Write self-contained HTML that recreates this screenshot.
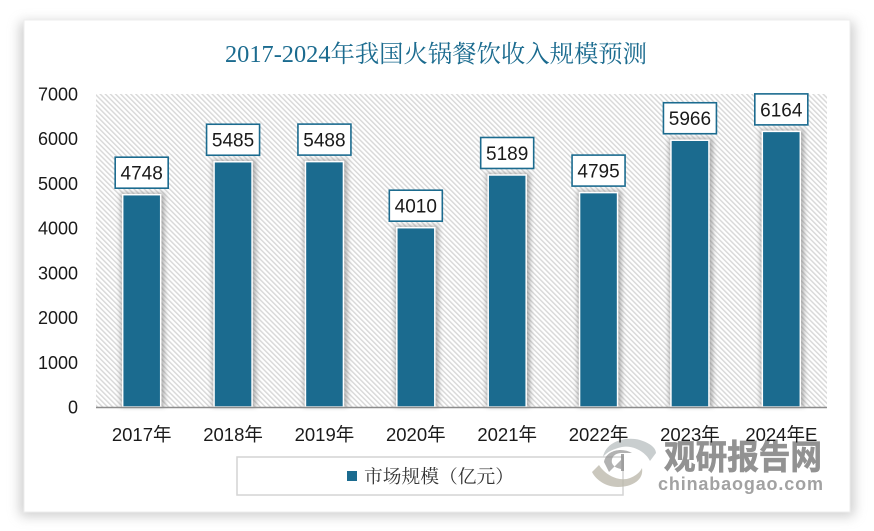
<!DOCTYPE html>
<html lang="zh-CN">
<head>
<meta charset="utf-8">
<title>2017-2024年我国火锅餐饮收入规模预测</title>
<style>
html,body{margin:0;padding:0;background:#fff;width:874px;height:531px;overflow:hidden}
#chart{display:block;position:absolute;left:0;top:0}
</style>
</head>
<body>
<svg id="chart" width="874" height="531" viewBox="0 0 874 531" xmlns="http://www.w3.org/2000/svg">
  <defs>
    <filter id="cardShadow" x="-5%" y="-5%" width="110%" height="110%">
      <feGaussianBlur stdDeviation="6"/>
    </filter>
    <filter id="barShadow" x="-40%" y="-10%" width="180%" height="120%">
      <feGaussianBlur stdDeviation="2.5"/>
    </filter>
    <pattern id="hatch" width="3.6" height="3.6" patternUnits="userSpaceOnUse" patternTransform="rotate(-45)">
      <rect width="3.6" height="3.6" fill="#ffffff"/>
      <rect x="0" width="1.5" height="3.6" fill="#d9d9d9"/>
    </pattern>
  </defs>
  <rect x="20" y="22" width="834" height="494" fill="#9a9a9a" opacity="0.5" filter="url(#cardShadow)"/>
  <rect x="24" y="20" width="826" height="492" fill="#ffffff" stroke="#eeeeee" stroke-width="1"/>
  <text x="436" y="62" text-anchor="middle" font-family="'Liberation Serif','Noto Serif CJK SC',serif" font-size="24" fill="#1b6b8f" textLength="422" lengthAdjust="spacingAndGlyphs">2017-2024年我国火锅餐饮收入规模预测</text>
  <rect x="96" y="94" width="731" height="313" fill="url(#hatch)"/>
  <g id="bars"></g>
  <line x1="96" x2="827" y1="407.5" y2="407.5" stroke="#8c8c8c" stroke-width="1.6"/>
  <g id="yTicks"></g>
  <g id="xTicks"></g>
  <g id="labels"></g>
  <rect x="237" y="457" width="386" height="38" fill="#ffffff" stroke="#d4d4d4" stroke-width="1.5"/>
  <rect x="347" y="471" width="10" height="10" fill="#1b6b8f"/>
  <text x="364" y="483" font-family="'Liberation Serif','Noto Serif CJK SC',serif" font-size="18.5" fill="#333333" textLength="150" lengthAdjust="spacingAndGlyphs">市场规模（亿元）</text>
  <g>
    <g opacity="0.8">
      <path d="M603 457 C606 441 626 436 640 440 C650 443 656 448 656 453 L650 461 C645 451 632 445 622 447 C613 449 607 452 603 457 Z" fill="#bcc2c4"/>
      <path d="M592 472 L599 465 C606 476 620 482 630 478 C637 475 640 472 642 468 C644 480 632 487 618 487 C606 487 596 480 592 472 Z" fill="#bdbaad"/>
      <path d="M604 462 C606 450 622 447 632 453 L622 453 C614 453 611 458 612 463 C614 468 620 469 622 469 L623 460 L623 458 L609 472 Z" fill="#8e8e8e" opacity="0.85"/>
      <rect x="621" y="454" width="3" height="17" fill="#8e8e8e"/>
    </g>
    <text x="664" y="469" font-family="'Liberation Sans','Noto Sans CJK SC',sans-serif" font-size="34" font-weight="700" fill="#8d8d8d" stroke="#8d8d8d" stroke-width="0.7" textLength="158" lengthAdjust="spacingAndGlyphs" opacity="0.95">观研报告网</text>
    <text x="658" y="490" font-family="'Liberation Sans',sans-serif" font-size="18" font-weight="700" fill="#a2a2a2" textLength="165" lengthAdjust="spacing">chinabaogao.com</text>
  </g>
  <g id="xTicksTop"></g>
</svg>
<script>
const categories = ['2017年','2018年','2019年','2020年','2021年','2022年','2023年','2024年E'];
const marketSize = [4748,5485,5488,4010,5189,4795,5966,6164];
const yTickValues = [0,1000,2000,3000,4000,5000,6000,7000];

const NS = 'http://www.w3.org/2000/svg';
const plotLeft = 96, plotRight = 827, plotTop = 94, plotBottom = 407, yMax = 7000;
const barWidth = 38, labelW = 53, labelH = 31;
const latin = "'Liberation Sans','Noto Sans CJK SC',sans-serif";

function yScale(v){ return plotBottom - (v / yMax) * (plotBottom - plotTop); }
function xCenter(i){ return plotLeft + (plotRight - plotLeft) / categories.length * (i + 0.5); }
function make(tag, attrs, parent){
  const el = document.createElementNS(NS, tag);
  for (const k in attrs) el.setAttribute(k, attrs[k]);
  parent.appendChild(el);
  return el;
}

const barsG = document.getElementById('bars');
const labelsG = document.getElementById('labels');
const xG = document.getElementById('xTicksTop');
const yG = document.getElementById('yTicks');

yTickValues.forEach(function(v){
  const t = make('text', {x: 78, y: yScale(v) + 6.5, 'text-anchor': 'end', 'font-family': latin, 'font-size': 18, fill: '#1a1a1a'}, yG);
  t.textContent = v;
  
  
});

categories.forEach(function(c, i){
  const cx = xCenter(i), top = yScale(marketSize[i]);

  const shadow = make('rect', {x: cx - barWidth / 2 - 2, y: top - 2, width: barWidth + 6, height: plotBottom - top + 2, fill: '#777777', opacity: 0.55, filter: 'url(#barShadow)'}, barsG);
  
  

  const bar = make('rect', {x: cx - barWidth / 2, y: top, width: barWidth, height: plotBottom - top, fill: '#1b6b8f', stroke: '#ffffff', 'stroke-width': 1.5}, barsG);
  
  

  const box = make('rect', {x: cx - labelW / 2, y: top - labelH - 6.5, width: labelW, height: labelH, fill: '#ffffff', stroke: '#1b6b8f', 'stroke-width': 1.6}, labelsG);
  
  

  const val = make('text', {x: cx, y: top - 15, 'text-anchor': 'middle', 'font-family': latin, 'font-size': 19, fill: '#1a1a1a'}, labelsG);
  val.textContent = marketSize[i];
  
  

  const xt = make('text', {x: cx, y: 441, 'text-anchor': 'middle', 'font-family': latin, 'font-size': 18.5, fill: '#1a1a1a'}, xG);
  xt.textContent = c;
  
  
});
</script>
</body>
</html>
